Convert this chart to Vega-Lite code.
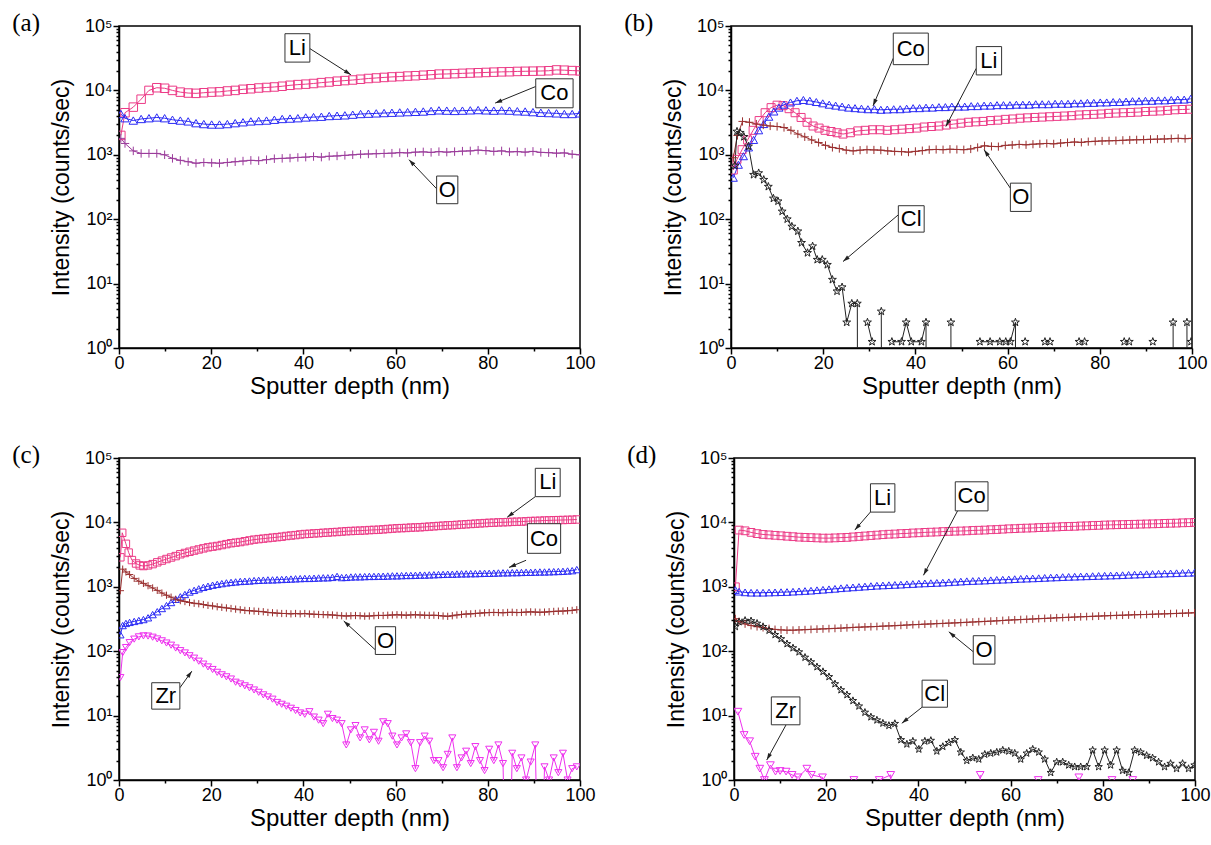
{
"$schema": "https://vega.github.io/schema/vega-lite/v6.json",
"background": "white",
"padding": {"left": 11, "top": 10, "right": 5, "bottom": 5},
"config": {
 "view": {"stroke": "black", "strokeWidth": 1.5},
 "axis": {"domainColor": "black", "domainWidth": 1.5, "tickColor": "black", "tickWidth": 1.5, "labelColor": "black", "labelFont": "Liberation Sans", "labelFontSize": 18, "titleFont": "Liberation Sans", "titleFontSize": 23, "titleFontWeight": "normal", "titleColor": "black", "grid": false, "labelOverlap": false, "labelFlush": false},
 "axisY": {"titlePadding": 11, "labelPadding": 1},
 "axisX": {"titlePadding": 2, "labelPadding": 0, "titleFontSize": 24},
 "title": {"anchor": "start", "frame": "bounds", "font": "Liberation Serif", "fontSize": 25, "fontWeight": "normal", "color": "black", "dx": -38, "dy": 23, "offset": 0}
},
"resolve": {"scale": {"color": "independent", "shape": "independent", "size": "independent"}},
"datasets": {
"a": [
{"s":"Li","x":0.4,"y":2000},{"s":"Li","x":1.3,"y":4500},{"s":"Li","x":3.1,"y":5500},{"s":"Li","x":4.8,"y":7300},{"s":"Li","x":6.5,"y":10000},{"s":"Li","x":8.2,"y":11000},{"s":"Li","x":9.9,"y":10800},{"s":"Li","x":11.6,"y":10000},{"s":"Li","x":13.3,"y":9400},{"s":"Li","x":15.0,"y":9100},{"s":"Li","x":16.7,"y":9000},{"s":"Li","x":18.4,"y":9200},{"s":"Li","x":20.1,"y":9400},{"s":"Li","x":21.8,"y":9500},{"s":"Li","x":23.5,"y":9800},{"s":"Li","x":25.2,"y":10000},{"s":"Li","x":26.9,"y":10400},{"s":"Li","x":28.6,"y":10600},{"s":"Li","x":30.3,"y":10900},{"s":"Li","x":32.0,"y":11100},{"s":"Li","x":33.7,"y":11300},{"s":"Li","x":35.4,"y":11600},{"s":"Li","x":37.1,"y":12000},{"s":"Li","x":38.8,"y":12300},{"s":"Li","x":40.5,"y":12500},{"s":"Li","x":42.2,"y":12800},{"s":"Li","x":43.9,"y":13200},{"s":"Li","x":45.6,"y":13500},{"s":"Li","x":47.3,"y":13900},{"s":"Li","x":49.0,"y":14200},{"s":"Li","x":50.7,"y":14500},{"s":"Li","x":52.4,"y":14900},{"s":"Li","x":54.1,"y":15300},{"s":"Li","x":55.8,"y":15600},{"s":"Li","x":57.5,"y":15900},{"s":"Li","x":59.2,"y":16200},{"s":"Li","x":60.9,"y":16400},{"s":"Li","x":62.6,"y":16700},{"s":"Li","x":64.3,"y":16900},{"s":"Li","x":66.0,"y":17200},{"s":"Li","x":67.7,"y":17500},{"s":"Li","x":69.4,"y":17900},{"s":"Li","x":71.1,"y":18000},{"s":"Li","x":72.8,"y":18200},{"s":"Li","x":74.5,"y":18400},{"s":"Li","x":76.2,"y":18600},{"s":"Li","x":77.9,"y":18800},{"s":"Li","x":79.6,"y":19000},{"s":"Li","x":81.3,"y":19200},{"s":"Li","x":83.0,"y":19400},{"s":"Li","x":84.7,"y":19500},{"s":"Li","x":86.4,"y":19700},{"s":"Li","x":88.1,"y":19800},{"s":"Li","x":89.8,"y":19900},{"s":"Li","x":91.5,"y":20000},{"s":"Li","x":93.2,"y":20200},{"s":"Li","x":94.9,"y":20800},{"s":"Li","x":96.6,"y":20600},{"s":"Li","x":98.3,"y":20300},{"s":"Li","x":100.0,"y":20100},
{"s":"Co","x":0.4,"y":4300},{"s":"Co","x":1.3,"y":3700},{"s":"Co","x":3.1,"y":3400},{"s":"Co","x":4.8,"y":3600},{"s":"Co","x":6.5,"y":3700},{"s":"Co","x":8.2,"y":3800},{"s":"Co","x":9.9,"y":3700},{"s":"Co","x":11.6,"y":3500},{"s":"Co","x":13.3,"y":3400},{"s":"Co","x":15.0,"y":3300},{"s":"Co","x":16.7,"y":3100},{"s":"Co","x":18.4,"y":3000},{"s":"Co","x":20.1,"y":2950},{"s":"Co","x":21.8,"y":2950},{"s":"Co","x":23.5,"y":3000},{"s":"Co","x":25.2,"y":3100},{"s":"Co","x":26.9,"y":3200},{"s":"Co","x":28.6,"y":3300},{"s":"Co","x":30.3,"y":3350},{"s":"Co","x":32.0,"y":3400},{"s":"Co","x":33.7,"y":3500},{"s":"Co","x":35.4,"y":3600},{"s":"Co","x":37.1,"y":3650},{"s":"Co","x":38.8,"y":3700},{"s":"Co","x":40.5,"y":3800},{"s":"Co","x":42.2,"y":3850},{"s":"Co","x":43.9,"y":3900},{"s":"Co","x":45.6,"y":4000},{"s":"Co","x":47.3,"y":4050},{"s":"Co","x":49.0,"y":4100},{"s":"Co","x":50.7,"y":4200},{"s":"Co","x":52.4,"y":4300},{"s":"Co","x":54.1,"y":4350},{"s":"Co","x":55.8,"y":4400},{"s":"Co","x":57.5,"y":4450},{"s":"Co","x":59.2,"y":4500},{"s":"Co","x":60.9,"y":4550},{"s":"Co","x":62.6,"y":4600},{"s":"Co","x":64.3,"y":4650},{"s":"Co","x":66.0,"y":4700},{"s":"Co","x":67.7,"y":4800},{"s":"Co","x":69.4,"y":4900},{"s":"Co","x":71.1,"y":4850},{"s":"Co","x":72.8,"y":4800},{"s":"Co","x":74.5,"y":4850},{"s":"Co","x":76.2,"y":4900},{"s":"Co","x":77.9,"y":4950},{"s":"Co","x":79.6,"y":4900},{"s":"Co","x":81.3,"y":4850},{"s":"Co","x":83.0,"y":4900},{"s":"Co","x":84.7,"y":4850},{"s":"Co","x":86.4,"y":4750},{"s":"Co","x":88.1,"y":4700},{"s":"Co","x":89.8,"y":4600},{"s":"Co","x":91.5,"y":4500},{"s":"Co","x":93.2,"y":4450},{"s":"Co","x":94.9,"y":4400},{"s":"Co","x":96.6,"y":4300},{"s":"Co","x":98.3,"y":4300},{"s":"Co","x":100.0,"y":4400},
{"s":"O","x":0.4,"y":1800},{"s":"O","x":1.3,"y":1500},{"s":"O","x":3.1,"y":1150},{"s":"O","x":4.8,"y":1050},{"s":"O","x":6.5,"y":1050},{"s":"O","x":8.2,"y":1050},{"s":"O","x":9.9,"y":1000},{"s":"O","x":11.6,"y":880},{"s":"O","x":13.3,"y":820},{"s":"O","x":15.0,"y":780},{"s":"O","x":16.7,"y":740},{"s":"O","x":18.4,"y":760},{"s":"O","x":20.1,"y":750},{"s":"O","x":21.8,"y":740},{"s":"O","x":23.5,"y":760},{"s":"O","x":25.2,"y":780},{"s":"O","x":26.9,"y":800},{"s":"O","x":28.6,"y":820},{"s":"O","x":30.3,"y":810},{"s":"O","x":32.0,"y":840},{"s":"O","x":33.7,"y":870},{"s":"O","x":35.4,"y":880},{"s":"O","x":37.1,"y":890},{"s":"O","x":38.8,"y":910},{"s":"O","x":40.5,"y":920},{"s":"O","x":42.2,"y":940},{"s":"O","x":43.9,"y":920},{"s":"O","x":45.6,"y":950},{"s":"O","x":47.3,"y":960},{"s":"O","x":49.0,"y":980},{"s":"O","x":50.7,"y":1000},{"s":"O","x":52.4,"y":1020},{"s":"O","x":54.1,"y":1030},{"s":"O","x":55.8,"y":1040},{"s":"O","x":57.5,"y":1050},{"s":"O","x":59.2,"y":1060},{"s":"O","x":60.9,"y":1080},{"s":"O","x":62.6,"y":1070},{"s":"O","x":64.3,"y":1100},{"s":"O","x":66.0,"y":1110},{"s":"O","x":67.7,"y":1090},{"s":"O","x":69.4,"y":1120},{"s":"O","x":71.1,"y":1100},{"s":"O","x":72.8,"y":1120},{"s":"O","x":74.5,"y":1140},{"s":"O","x":76.2,"y":1150},{"s":"O","x":77.9,"y":1180},{"s":"O","x":79.6,"y":1160},{"s":"O","x":81.3,"y":1130},{"s":"O","x":83.0,"y":1150},{"s":"O","x":84.7,"y":1110},{"s":"O","x":86.4,"y":1120},{"s":"O","x":88.1,"y":1100},{"s":"O","x":89.8,"y":1130},{"s":"O","x":91.5,"y":1090},{"s":"O","x":93.2,"y":1080},{"s":"O","x":94.9,"y":1060},{"s":"O","x":96.6,"y":1070},{"s":"O","x":98.3,"y":1020},{"s":"O","x":100.0,"y":1000}
],
"b": [
{"s":"Li","x":0.5,"y":580},{"s":"Li","x":1.3,"y":850},{"s":"Li","x":2.4,"y":1200},{"s":"Li","x":3.6,"y":1700},{"s":"Li","x":4.8,"y":2400},{"s":"Li","x":6.1,"y":3400},{"s":"Li","x":7.4,"y":4500},{"s":"Li","x":8.7,"y":5400},{"s":"Li","x":10.0,"y":5900},{"s":"Li","x":11.3,"y":5800},{"s":"Li","x":12.6,"y":5200},{"s":"Li","x":13.9,"y":4500},{"s":"Li","x":15.2,"y":3800},{"s":"Li","x":16.5,"y":3200},{"s":"Li","x":17.8,"y":2800},{"s":"Li","x":19.1,"y":2600},{"s":"Li","x":20.4,"y":2400},{"s":"Li","x":21.7,"y":2300},{"s":"Li","x":23.0,"y":2200},{"s":"Li","x":24.3,"y":2100},{"s":"Li","x":25.9,"y":2200},{"s":"Li","x":27.5,"y":2350},{"s":"Li","x":29.1,"y":2400},{"s":"Li","x":30.7,"y":2450},{"s":"Li","x":32.3,"y":2450},{"s":"Li","x":33.9,"y":2400},{"s":"Li","x":35.5,"y":2450},{"s":"Li","x":37.1,"y":2500},{"s":"Li","x":38.7,"y":2550},{"s":"Li","x":40.3,"y":2600},{"s":"Li","x":41.9,"y":2700},{"s":"Li","x":43.5,"y":2750},{"s":"Li","x":45.1,"y":2800},{"s":"Li","x":46.7,"y":2900},{"s":"Li","x":48.3,"y":3000},{"s":"Li","x":49.9,"y":3100},{"s":"Li","x":51.5,"y":3200},{"s":"Li","x":53.1,"y":3250},{"s":"Li","x":54.7,"y":3300},{"s":"Li","x":56.3,"y":3400},{"s":"Li","x":57.9,"y":3450},{"s":"Li","x":59.5,"y":3550},{"s":"Li","x":61.1,"y":3600},{"s":"Li","x":62.7,"y":3700},{"s":"Li","x":64.3,"y":3750},{"s":"Li","x":65.9,"y":3800},{"s":"Li","x":67.5,"y":3850},{"s":"Li","x":69.1,"y":3900},{"s":"Li","x":70.7,"y":3950},{"s":"Li","x":72.3,"y":4000},{"s":"Li","x":73.9,"y":4050},{"s":"Li","x":75.5,"y":4150},{"s":"Li","x":77.1,"y":4200},{"s":"Li","x":78.7,"y":4250},{"s":"Li","x":80.3,"y":4300},{"s":"Li","x":81.9,"y":4400},{"s":"Li","x":83.5,"y":4450},{"s":"Li","x":85.1,"y":4500},{"s":"Li","x":86.7,"y":4550},{"s":"Li","x":88.3,"y":4600},{"s":"Li","x":89.9,"y":4700},{"s":"Li","x":91.5,"y":4750},{"s":"Li","x":93.1,"y":4800},{"s":"Li","x":94.7,"y":4900},{"s":"Li","x":96.3,"y":5000},{"s":"Li","x":97.9,"y":5050},{"s":"Li","x":99.5,"y":5100},
{"s":"Co","x":0.5,"y":440},{"s":"Co","x":1.6,"y":700},{"s":"Co","x":2.7,"y":950},{"s":"Co","x":3.8,"y":1300},{"s":"Co","x":4.9,"y":1700},{"s":"Co","x":6.0,"y":2400},{"s":"Co","x":7.1,"y":3000},{"s":"Co","x":8.2,"y":3900},{"s":"Co","x":9.3,"y":4700},{"s":"Co","x":10.4,"y":5400},{"s":"Co","x":11.5,"y":6000},{"s":"Co","x":12.9,"y":6500},{"s":"Co","x":14.3,"y":6900},{"s":"Co","x":15.7,"y":7100},{"s":"Co","x":17.1,"y":6900},{"s":"Co","x":18.5,"y":6600},{"s":"Co","x":19.9,"y":6300},{"s":"Co","x":21.3,"y":6000},{"s":"Co","x":22.7,"y":5800},{"s":"Co","x":24.1,"y":5600},{"s":"Co","x":25.5,"y":5400},{"s":"Co","x":26.9,"y":5300},{"s":"Co","x":28.3,"y":5200},{"s":"Co","x":29.7,"y":5100},{"s":"Co","x":31.1,"y":5100},{"s":"Co","x":32.5,"y":5000},{"s":"Co","x":33.9,"y":5050},{"s":"Co","x":35.3,"y":5100},{"s":"Co","x":36.7,"y":5100},{"s":"Co","x":38.1,"y":5200},{"s":"Co","x":39.5,"y":5300},{"s":"Co","x":40.9,"y":5300},{"s":"Co","x":42.3,"y":5400},{"s":"Co","x":43.7,"y":5400},{"s":"Co","x":45.1,"y":5500},{"s":"Co","x":46.5,"y":5500},{"s":"Co","x":47.9,"y":5600},{"s":"Co","x":49.3,"y":5600},{"s":"Co","x":50.7,"y":5600},{"s":"Co","x":52.1,"y":5700},{"s":"Co","x":53.5,"y":5700},{"s":"Co","x":54.9,"y":5800},{"s":"Co","x":56.3,"y":5800},{"s":"Co","x":57.7,"y":5900},{"s":"Co","x":59.1,"y":5900},{"s":"Co","x":60.5,"y":5900},{"s":"Co","x":61.9,"y":6000},{"s":"Co","x":63.3,"y":6000},{"s":"Co","x":64.7,"y":6000},{"s":"Co","x":66.1,"y":6100},{"s":"Co","x":67.5,"y":6100},{"s":"Co","x":68.9,"y":6100},{"s":"Co","x":70.3,"y":6200},{"s":"Co","x":71.7,"y":6200},{"s":"Co","x":73.1,"y":6200},{"s":"Co","x":74.5,"y":6300},{"s":"Co","x":75.9,"y":6300},{"s":"Co","x":77.3,"y":6400},{"s":"Co","x":78.7,"y":6400},{"s":"Co","x":80.1,"y":6500},{"s":"Co","x":81.5,"y":6500},{"s":"Co","x":82.9,"y":6600},{"s":"Co","x":84.3,"y":6600},{"s":"Co","x":85.7,"y":6700},{"s":"Co","x":87.1,"y":6800},{"s":"Co","x":88.5,"y":6800},{"s":"Co","x":89.9,"y":6900},{"s":"Co","x":91.3,"y":6900},{"s":"Co","x":92.7,"y":7000},{"s":"Co","x":94.1,"y":7000},{"s":"Co","x":95.5,"y":7100},{"s":"Co","x":96.9,"y":7200},{"s":"Co","x":98.3,"y":7200},{"s":"Co","x":99.7,"y":7400},
{"s":"O","x":0.5,"y":900},{"s":"O","x":1.4,"y":2000},{"s":"O","x":2.5,"y":3300},{"s":"O","x":4.0,"y":3200},{"s":"O","x":5.5,"y":3000},{"s":"O","x":7.0,"y":2900},{"s":"O","x":8.5,"y":2800},{"s":"O","x":10.0,"y":2750},{"s":"O","x":11.5,"y":2650},{"s":"O","x":13.0,"y":2400},{"s":"O","x":14.5,"y":2100},{"s":"O","x":16.0,"y":1900},{"s":"O","x":17.5,"y":1700},{"s":"O","x":19.0,"y":1550},{"s":"O","x":20.5,"y":1400},{"s":"O","x":22.0,"y":1300},{"s":"O","x":23.5,"y":1250},{"s":"O","x":25.0,"y":1180},{"s":"O","x":26.5,"y":1150},{"s":"O","x":28.0,"y":1180},{"s":"O","x":29.5,"y":1200},{"s":"O","x":31.0,"y":1190},{"s":"O","x":32.5,"y":1180},{"s":"O","x":34.0,"y":1150},{"s":"O","x":35.5,"y":1130},{"s":"O","x":37.0,"y":1120},{"s":"O","x":38.5,"y":1100},{"s":"O","x":40.0,"y":1130},{"s":"O","x":41.5,"y":1160},{"s":"O","x":43.0,"y":1200},{"s":"O","x":44.5,"y":1210},{"s":"O","x":46.0,"y":1200},{"s":"O","x":47.5,"y":1220},{"s":"O","x":49.0,"y":1210},{"s":"O","x":50.5,"y":1200},{"s":"O","x":52.0,"y":1230},{"s":"O","x":53.5,"y":1300},{"s":"O","x":55.0,"y":1380},{"s":"O","x":56.5,"y":1350},{"s":"O","x":58.0,"y":1340},{"s":"O","x":59.5,"y":1400},{"s":"O","x":61.0,"y":1420},{"s":"O","x":62.5,"y":1450},{"s":"O","x":64.0,"y":1430},{"s":"O","x":65.5,"y":1460},{"s":"O","x":67.0,"y":1480},{"s":"O","x":68.5,"y":1500},{"s":"O","x":70.0,"y":1480},{"s":"O","x":71.5,"y":1520},{"s":"O","x":73.0,"y":1550},{"s":"O","x":74.5,"y":1580},{"s":"O","x":76.0,"y":1560},{"s":"O","x":77.5,"y":1600},{"s":"O","x":79.0,"y":1620},{"s":"O","x":80.5,"y":1640},{"s":"O","x":82.0,"y":1650},{"s":"O","x":83.5,"y":1660},{"s":"O","x":85.0,"y":1680},{"s":"O","x":86.5,"y":1700},{"s":"O","x":88.0,"y":1710},{"s":"O","x":89.5,"y":1720},{"s":"O","x":91.0,"y":1740},{"s":"O","x":92.5,"y":1750},{"s":"O","x":94.0,"y":1760},{"s":"O","x":95.5,"y":1780},{"s":"O","x":97.0,"y":1800},{"s":"O","x":98.5,"y":1780},{"s":"O","x":100.0,"y":1800},
{"s":"Cl","x":0.85,"y":680},{"s":"Cl","x":1.3,"y":2300},{"s":"Cl","x":2.0,"y":2200},{"s":"Cl","x":2.8,"y":1900},{"s":"Cl","x":3.8,"y":1350},{"s":"Cl","x":4.9,"y":490},{"s":"Cl","x":6.0,"y":520},{"s":"Cl","x":7.1,"y":410},{"s":"Cl","x":8.1,"y":320},{"s":"Cl","x":9.2,"y":210},{"s":"Cl","x":10.2,"y":190},{"s":"Cl","x":11.1,"y":132},{"s":"Cl","x":12.2,"y":100},{"s":"Cl","x":13.2,"y":77},{"s":"Cl","x":14.5,"y":65},{"s":"Cl","x":15.3,"y":43},{"s":"Cl","x":16.6,"y":30},{"s":"Cl","x":17.7,"y":38},{"s":"Cl","x":18.7,"y":23.5},{"s":"Cl","x":19.8,"y":23.5},{"s":"Cl","x":20.9,"y":19.6},{"s":"Cl","x":22.0,"y":11.5},{"s":"Cl","x":23.0,"y":7.6},{"s":"Cl","x":24.1,"y":8.8},{"s":"Cl","x":25.1,"y":2.5},{"s":"Cl","x":26.2,"y":4.9},{"s":"Cl","x":27.4,"y":4.9},{"s":"Cl","x":27.5,"y":0.001},{"s":"Cl","x":28.5,"y":null},{"s":"Cl","x":29.6,"y":2.5},{"s":"Cl","x":30.6,"y":1.25},{"s":"Cl","x":31.6,"y":null},{"s":"Cl","x":32.6,"y":3.7},{"s":"Cl","x":32.7,"y":0.001},{"s":"Cl","x":33.8,"y":null},{"s":"Cl","x":34.9,"y":1.25},{"s":"Cl","x":37.0,"y":1.25},{"s":"Cl","x":38.0,"y":2.5},{"s":"Cl","x":39.1,"y":1.25},{"s":"Cl","x":41.3,"y":1.25},{"s":"Cl","x":42.3,"y":2.5},{"s":"Cl","x":42.4,"y":0.001},{"s":"Cl","x":45.0,"y":null},{"s":"Cl","x":47.7,"y":2.5},{"s":"Cl","x":47.8,"y":0.001},{"s":"Cl","x":51.0,"y":null},{"s":"Cl","x":54.0,"y":1.25},{"s":"Cl","x":56.2,"y":1.25},{"s":"Cl","x":58.3,"y":1.25},{"s":"Cl","x":59.6,"y":1.25},{"s":"Cl","x":60.6,"y":1.25},{"s":"Cl","x":61.7,"y":2.5},{"s":"Cl","x":61.8,"y":0.001},{"s":"Cl","x":62.8,"y":null},{"s":"Cl","x":63.8,"y":1.25},{"s":"Cl","x":66.0,"y":null},{"s":"Cl","x":68.1,"y":1.25},{"s":"Cl","x":69.2,"y":1.25},{"s":"Cl","x":72.0,"y":null},{"s":"Cl","x":75.5,"y":1.25},{"s":"Cl","x":76.7,"y":1.25},{"s":"Cl","x":80.0,"y":null},{"s":"Cl","x":85.3,"y":1.25},{"s":"Cl","x":86.4,"y":1.25},{"s":"Cl","x":89.0,"y":null},{"s":"Cl","x":91.5,"y":1.25},{"s":"Cl","x":93.0,"y":null},{"s":"Cl","x":95.9,"y":2.5},{"s":"Cl","x":96.0,"y":0.001},{"s":"Cl","x":97.5,"y":null},{"s":"Cl","x":98.9,"y":2.5},{"s":"Cl","x":99.0,"y":0.001},{"s":"Cl","x":99.4,"y":null},{"s":"Cl","x":99.8,"y":1.25}
],
"c": [
{"s":"Li","x":0.3,"y":2870},{"s":"Li","x":0.7,"y":6900},{"s":"Li","x":1.5,"y":4650},{"s":"Li","x":2.1,"y":3400},{"s":"Li","x":2.8,"y":2600},{"s":"Li","x":3.7,"y":2300},{"s":"Li","x":4.5,"y":2150},{"s":"Li","x":5.3,"y":2100},{"s":"Li","x":6.3,"y":2150},{"s":"Li","x":7.3,"y":2250},{"s":"Li","x":8.3,"y":2400},{"s":"Li","x":9.3,"y":2550},{"s":"Li","x":10.3,"y":2700},{"s":"Li","x":11.3,"y":2850},{"s":"Li","x":12.3,"y":3000},{"s":"Li","x":13.3,"y":3200},{"s":"Li","x":14.3,"y":3350},{"s":"Li","x":15.3,"y":3500},{"s":"Li","x":16.3,"y":3650},{"s":"Li","x":17.3,"y":3800},{"s":"Li","x":18.3,"y":3950},{"s":"Li","x":19.3,"y":4100},{"s":"Li","x":20.3,"y":4200},{"s":"Li","x":21.3,"y":4300},{"s":"Li","x":22.3,"y":4450},{"s":"Li","x":23.3,"y":4600},{"s":"Li","x":24.3,"y":4750},{"s":"Li","x":25.3,"y":4850},{"s":"Li","x":26.3,"y":4950},{"s":"Li","x":27.3,"y":5100},{"s":"Li","x":28.3,"y":5250},{"s":"Li","x":29.3,"y":5400},{"s":"Li","x":30.3,"y":5500},{"s":"Li","x":31.3,"y":5600},{"s":"Li","x":32.3,"y":5700},{"s":"Li","x":33.3,"y":5800},{"s":"Li","x":34.3,"y":5900},{"s":"Li","x":35.3,"y":6000},{"s":"Li","x":36.3,"y":6150},{"s":"Li","x":37.3,"y":6250},{"s":"Li","x":38.3,"y":6350},{"s":"Li","x":39.3,"y":6500},{"s":"Li","x":40.3,"y":6600},{"s":"Li","x":41.3,"y":6650},{"s":"Li","x":42.3,"y":6750},{"s":"Li","x":43.3,"y":6800},{"s":"Li","x":44.3,"y":6900},{"s":"Li","x":45.3,"y":6950},{"s":"Li","x":46.3,"y":7050},{"s":"Li","x":47.3,"y":7100},{"s":"Li","x":48.3,"y":7200},{"s":"Li","x":49.3,"y":7300},{"s":"Li","x":50.3,"y":7350},{"s":"Li","x":51.3,"y":7400},{"s":"Li","x":52.3,"y":7450},{"s":"Li","x":53.3,"y":7500},{"s":"Li","x":54.3,"y":7600},{"s":"Li","x":55.3,"y":7650},{"s":"Li","x":56.3,"y":7700},{"s":"Li","x":57.3,"y":7800},{"s":"Li","x":58.3,"y":7900},{"s":"Li","x":59.3,"y":8000},{"s":"Li","x":60.3,"y":8100},{"s":"Li","x":61.3,"y":8150},{"s":"Li","x":62.3,"y":8200},{"s":"Li","x":63.3,"y":8300},{"s":"Li","x":64.3,"y":8350},{"s":"Li","x":65.3,"y":8400},{"s":"Li","x":66.3,"y":8500},{"s":"Li","x":67.3,"y":8600},{"s":"Li","x":68.3,"y":8700},{"s":"Li","x":69.3,"y":8800},{"s":"Li","x":70.3,"y":8900},{"s":"Li","x":71.3,"y":9000},{"s":"Li","x":72.3,"y":9050},{"s":"Li","x":73.3,"y":9150},{"s":"Li","x":74.3,"y":9250},{"s":"Li","x":75.3,"y":9350},{"s":"Li","x":76.3,"y":9450},{"s":"Li","x":77.3,"y":9550},{"s":"Li","x":78.3,"y":9650},{"s":"Li","x":79.3,"y":9750},{"s":"Li","x":80.3,"y":9850},{"s":"Li","x":81.3,"y":9900},{"s":"Li","x":82.3,"y":10000},{"s":"Li","x":83.3,"y":10050},{"s":"Li","x":84.3,"y":10100},{"s":"Li","x":85.3,"y":10200},{"s":"Li","x":86.3,"y":10250},{"s":"Li","x":87.3,"y":10300},{"s":"Li","x":88.3,"y":10400},{"s":"Li","x":89.3,"y":10500},{"s":"Li","x":90.3,"y":10550},{"s":"Li","x":91.3,"y":10600},{"s":"Li","x":92.3,"y":10700},{"s":"Li","x":93.3,"y":10750},{"s":"Li","x":94.3,"y":10800},{"s":"Li","x":95.3,"y":10850},{"s":"Li","x":96.3,"y":10900},{"s":"Li","x":97.3,"y":10950},{"s":"Li","x":98.3,"y":11000},{"s":"Li","x":99.3,"y":11100},
{"s":"Co","x":0.3,"y":180},{"s":"Co","x":0.8,"y":250},{"s":"Co","x":1.5,"y":270},{"s":"Co","x":2.3,"y":280},{"s":"Co","x":3.3,"y":290},{"s":"Co","x":4.3,"y":300},{"s":"Co","x":5.3,"y":310},{"s":"Co","x":6.3,"y":330},{"s":"Co","x":7.3,"y":370},{"s":"Co","x":8.3,"y":410},{"s":"Co","x":9.3,"y":460},{"s":"Co","x":10.3,"y":510},{"s":"Co","x":11.3,"y":570},{"s":"Co","x":12.3,"y":640},{"s":"Co","x":13.3,"y":700},{"s":"Co","x":14.3,"y":760},{"s":"Co","x":15.3,"y":830},{"s":"Co","x":16.3,"y":880},{"s":"Co","x":17.3,"y":930},{"s":"Co","x":18.3,"y":980},{"s":"Co","x":19.3,"y":1020},{"s":"Co","x":20.3,"y":1060},{"s":"Co","x":21.3,"y":1090},{"s":"Co","x":22.3,"y":1120},{"s":"Co","x":23.3,"y":1150},{"s":"Co","x":24.3,"y":1170},{"s":"Co","x":25.3,"y":1190},{"s":"Co","x":26.3,"y":1210},{"s":"Co","x":27.3,"y":1220},{"s":"Co","x":28.3,"y":1230},{"s":"Co","x":29.3,"y":1250},{"s":"Co","x":30.3,"y":1260},{"s":"Co","x":31.3,"y":1270},{"s":"Co","x":32.3,"y":1280},{"s":"Co","x":33.3,"y":1280},{"s":"Co","x":34.3,"y":1290},{"s":"Co","x":35.3,"y":1300},{"s":"Co","x":36.3,"y":1310},{"s":"Co","x":37.3,"y":1320},{"s":"Co","x":38.3,"y":1330},{"s":"Co","x":39.3,"y":1340},{"s":"Co","x":40.3,"y":1350},{"s":"Co","x":41.3,"y":1350},{"s":"Co","x":42.3,"y":1360},{"s":"Co","x":43.3,"y":1370},{"s":"Co","x":44.3,"y":1380},{"s":"Co","x":45.3,"y":1380},{"s":"Co","x":46.3,"y":1400},{"s":"Co","x":47.3,"y":1450},{"s":"Co","x":48.3,"y":1390},{"s":"Co","x":49.3,"y":1400},{"s":"Co","x":50.3,"y":1420},{"s":"Co","x":51.3,"y":1430},{"s":"Co","x":52.3,"y":1430},{"s":"Co","x":53.3,"y":1440},{"s":"Co","x":54.3,"y":1450},{"s":"Co","x":55.3,"y":1450},{"s":"Co","x":56.3,"y":1460},{"s":"Co","x":57.3,"y":1460},{"s":"Co","x":58.3,"y":1470},{"s":"Co","x":59.3,"y":1480},{"s":"Co","x":60.3,"y":1480},{"s":"Co","x":61.3,"y":1490},{"s":"Co","x":62.3,"y":1500},{"s":"Co","x":63.3,"y":1500},{"s":"Co","x":64.3,"y":1510},{"s":"Co","x":65.3,"y":1520},{"s":"Co","x":66.3,"y":1520},{"s":"Co","x":67.3,"y":1530},{"s":"Co","x":68.3,"y":1540},{"s":"Co","x":69.3,"y":1550},{"s":"Co","x":70.3,"y":1560},{"s":"Co","x":71.3,"y":1570},{"s":"Co","x":72.3,"y":1570},{"s":"Co","x":73.3,"y":1580},{"s":"Co","x":74.3,"y":1590},{"s":"Co","x":75.3,"y":1590},{"s":"Co","x":76.3,"y":1600},{"s":"Co","x":77.3,"y":1600},{"s":"Co","x":78.3,"y":1610},{"s":"Co","x":79.3,"y":1620},{"s":"Co","x":80.3,"y":1620},{"s":"Co","x":81.3,"y":1630},{"s":"Co","x":82.3,"y":1640},{"s":"Co","x":83.3,"y":1650},{"s":"Co","x":84.3,"y":1650},{"s":"Co","x":85.3,"y":1660},{"s":"Co","x":86.3,"y":1660},{"s":"Co","x":87.3,"y":1670},{"s":"Co","x":88.3,"y":1680},{"s":"Co","x":89.3,"y":1680},{"s":"Co","x":90.3,"y":1690},{"s":"Co","x":91.3,"y":1700},{"s":"Co","x":92.3,"y":1700},{"s":"Co","x":93.3,"y":1710},{"s":"Co","x":94.3,"y":1720},{"s":"Co","x":95.3,"y":1730},{"s":"Co","x":96.3,"y":1740},{"s":"Co","x":97.3,"y":1760},{"s":"Co","x":98.3,"y":1780},{"s":"Co","x":99.3,"y":1850},
{"s":"O","x":0.3,"y":870},{"s":"O","x":0.8,"y":1880},{"s":"O","x":1.5,"y":1700},{"s":"O","x":2.3,"y":1550},{"s":"O","x":3.3,"y":1350},{"s":"O","x":4.3,"y":1220},{"s":"O","x":5.3,"y":1130},{"s":"O","x":6.3,"y":1040},{"s":"O","x":7.3,"y":960},{"s":"O","x":8.3,"y":880},{"s":"O","x":9.3,"y":800},{"s":"O","x":10.3,"y":740},{"s":"O","x":11.3,"y":690},{"s":"O","x":12.3,"y":640},{"s":"O","x":13.3,"y":610},{"s":"O","x":14.3,"y":590},{"s":"O","x":15.3,"y":570},{"s":"O","x":16.3,"y":555},{"s":"O","x":17.3,"y":545},{"s":"O","x":18.3,"y":530},{"s":"O","x":19.3,"y":515},{"s":"O","x":20.3,"y":505},{"s":"O","x":21.3,"y":490},{"s":"O","x":22.3,"y":480},{"s":"O","x":23.3,"y":470},{"s":"O","x":24.3,"y":460},{"s":"O","x":25.3,"y":450},{"s":"O","x":26.3,"y":440},{"s":"O","x":27.3,"y":430},{"s":"O","x":28.3,"y":425},{"s":"O","x":29.3,"y":420},{"s":"O","x":30.3,"y":415},{"s":"O","x":31.3,"y":410},{"s":"O","x":32.3,"y":400},{"s":"O","x":33.3,"y":395},{"s":"O","x":34.3,"y":390},{"s":"O","x":35.3,"y":385},{"s":"O","x":36.3,"y":385},{"s":"O","x":37.3,"y":380},{"s":"O","x":38.3,"y":385},{"s":"O","x":39.3,"y":380},{"s":"O","x":40.3,"y":385},{"s":"O","x":41.3,"y":378},{"s":"O","x":42.3,"y":375},{"s":"O","x":43.3,"y":372},{"s":"O","x":44.3,"y":370},{"s":"O","x":45.3,"y":368},{"s":"O","x":46.3,"y":365},{"s":"O","x":47.3,"y":360},{"s":"O","x":48.3,"y":355},{"s":"O","x":49.3,"y":352},{"s":"O","x":50.3,"y":355},{"s":"O","x":51.3,"y":358},{"s":"O","x":52.3,"y":355},{"s":"O","x":53.3,"y":350},{"s":"O","x":54.3,"y":352},{"s":"O","x":55.3,"y":356},{"s":"O","x":56.3,"y":360},{"s":"O","x":57.3,"y":358},{"s":"O","x":58.3,"y":362},{"s":"O","x":59.3,"y":365},{"s":"O","x":60.3,"y":368},{"s":"O","x":61.3,"y":365},{"s":"O","x":62.3,"y":362},{"s":"O","x":63.3,"y":366},{"s":"O","x":64.3,"y":368},{"s":"O","x":65.3,"y":365},{"s":"O","x":66.3,"y":362},{"s":"O","x":67.3,"y":360},{"s":"O","x":68.3,"y":362},{"s":"O","x":69.3,"y":358},{"s":"O","x":70.3,"y":352},{"s":"O","x":71.3,"y":348},{"s":"O","x":72.3,"y":355},{"s":"O","x":73.3,"y":365},{"s":"O","x":74.3,"y":372},{"s":"O","x":75.3,"y":378},{"s":"O","x":76.3,"y":380},{"s":"O","x":77.3,"y":385},{"s":"O","x":78.3,"y":390},{"s":"O","x":79.3,"y":395},{"s":"O","x":80.3,"y":398},{"s":"O","x":81.3,"y":400},{"s":"O","x":82.3,"y":398},{"s":"O","x":83.3,"y":395},{"s":"O","x":84.3,"y":400},{"s":"O","x":85.3,"y":402},{"s":"O","x":86.3,"y":398},{"s":"O","x":87.3,"y":400},{"s":"O","x":88.3,"y":405},{"s":"O","x":89.3,"y":408},{"s":"O","x":90.3,"y":405},{"s":"O","x":91.3,"y":402},{"s":"O","x":92.3,"y":405},{"s":"O","x":93.3,"y":410},{"s":"O","x":94.3,"y":415},{"s":"O","x":95.3,"y":418},{"s":"O","x":96.3,"y":420},{"s":"O","x":97.3,"y":425},{"s":"O","x":98.3,"y":430},{"s":"O","x":99.3,"y":440},
{"s":"Zr","x":0.3,"y":39},{"s":"Zr","x":0.8,"y":95},{"s":"Zr","x":1.5,"y":114},{"s":"Zr","x":2.3,"y":136},{"s":"Zr","x":3.3,"y":154},{"s":"Zr","x":4.3,"y":167},{"s":"Zr","x":5.3,"y":173},{"s":"Zr","x":6.3,"y":172},{"s":"Zr","x":7.3,"y":165},{"s":"Zr","x":8.3,"y":155},{"s":"Zr","x":9.3,"y":145},{"s":"Zr","x":10.3,"y":134},{"s":"Zr","x":11.3,"y":124},{"s":"Zr","x":12.3,"y":112},{"s":"Zr","x":13.3,"y":102},{"s":"Zr","x":14.3,"y":94},{"s":"Zr","x":15.3,"y":85},{"s":"Zr","x":16.3,"y":78},{"s":"Zr","x":17.3,"y":70},{"s":"Zr","x":18.3,"y":63},{"s":"Zr","x":19.3,"y":57},{"s":"Zr","x":20.3,"y":52},{"s":"Zr","x":21.3,"y":47},{"s":"Zr","x":22.3,"y":43},{"s":"Zr","x":23.3,"y":40},{"s":"Zr","x":24.3,"y":37},{"s":"Zr","x":25.3,"y":33},{"s":"Zr","x":26.3,"y":31},{"s":"Zr","x":27.3,"y":29},{"s":"Zr","x":28.3,"y":27},{"s":"Zr","x":29.3,"y":25},{"s":"Zr","x":30.3,"y":23},{"s":"Zr","x":31.3,"y":21},{"s":"Zr","x":32.3,"y":19.5},{"s":"Zr","x":33.3,"y":18},{"s":"Zr","x":34.3,"y":16},{"s":"Zr","x":35.3,"y":15},{"s":"Zr","x":36.3,"y":14},{"s":"Zr","x":37.3,"y":13},{"s":"Zr","x":38.3,"y":12},{"s":"Zr","x":39.3,"y":11},{"s":"Zr","x":40.3,"y":10.5},{"s":"Zr","x":41.3,"y":11.5},{"s":"Zr","x":42.3,"y":9.5},{"s":"Zr","x":43.3,"y":8.5},{"s":"Zr","x":44.3,"y":7.5},{"s":"Zr","x":45.3,"y":10.5},{"s":"Zr","x":46.3,"y":9},{"s":"Zr","x":47.3,"y":8.5},{"s":"Zr","x":48.3,"y":7.5},{"s":"Zr","x":49.3,"y":3.5},{"s":"Zr","x":50.3,"y":6.0},{"s":"Zr","x":51.3,"y":7.0},{"s":"Zr","x":52.3,"y":4.5},{"s":"Zr","x":53.3,"y":6.0},{"s":"Zr","x":54.3,"y":4.2},{"s":"Zr","x":55.3,"y":5.5},{"s":"Zr","x":56.3,"y":4.0},{"s":"Zr","x":57.3,"y":8.0},{"s":"Zr","x":58.3,"y":7.5},{"s":"Zr","x":59.3,"y":4.8},{"s":"Zr","x":60.3,"y":3.5},{"s":"Zr","x":61.3,"y":4.5},{"s":"Zr","x":62.3,"y":5.2},{"s":"Zr","x":63.3,"y":3.8},{"s":"Zr","x":64.3,"y":1.5},{"s":"Zr","x":65.3,"y":3.8},{"s":"Zr","x":66.3,"y":4.8},{"s":"Zr","x":67.3,"y":4.0},{"s":"Zr","x":68.3,"y":2.0},{"s":"Zr","x":69.3,"y":2.0},{"s":"Zr","x":70.3,"y":1.55},{"s":"Zr","x":71.3,"y":2.5},{"s":"Zr","x":72.3,"y":4.5},{"s":"Zr","x":73.3,"y":1.55},{"s":"Zr","x":74.3,"y":2.2},{"s":"Zr","x":75.3,"y":2.8},{"s":"Zr","x":76.3,"y":1.8},{"s":"Zr","x":77.3,"y":3.3},{"s":"Zr","x":78.3,"y":2.0},{"s":"Zr","x":79.3,"y":1.4},{"s":"Zr","x":80.3,"y":3.0},{"s":"Zr","x":81.3,"y":2.0},{"s":"Zr","x":82.3,"y":3.5},{"s":"Zr","x":83.3,"y":1.8},{"s":"Zr","x":84.3,"y":0.001},{"s":"Zr","x":85.3,"y":2.6},{"s":"Zr","x":86.3,"y":1.5},{"s":"Zr","x":87.3,"y":2.2},{"s":"Zr","x":88.3,"y":1.0},{"s":"Zr","x":89.3,"y":1.9},{"s":"Zr","x":90.3,"y":3.5},{"s":"Zr","x":91.3,"y":0.001},{"s":"Zr","x":92.3,"y":1.6},{"s":"Zr","x":93.3,"y":1.0},{"s":"Zr","x":94.3,"y":2.2},{"s":"Zr","x":95.3,"y":1.3},{"s":"Zr","x":96.3,"y":2.6},{"s":"Zr","x":97.3,"y":1.0},{"s":"Zr","x":98.3,"y":1.5},{"s":"Zr","x":99.3,"y":1.6}
],
"d": [
{"s":"Li","x":0.3,"y":1000},{"s":"Li","x":1.1,"y":7600},{"s":"Li","x":2.4,"y":7400},{"s":"Li","x":3.7,"y":7000},{"s":"Li","x":5.0,"y":6700},{"s":"Li","x":6.3,"y":6500},{"s":"Li","x":7.6,"y":6400},{"s":"Li","x":8.9,"y":6300},{"s":"Li","x":10.2,"y":6200},{"s":"Li","x":11.5,"y":6100},{"s":"Li","x":12.8,"y":6000},{"s":"Li","x":14.1,"y":5900},{"s":"Li","x":15.4,"y":5850},{"s":"Li","x":16.7,"y":5800},{"s":"Li","x":18.0,"y":5750},{"s":"Li","x":19.3,"y":5700},{"s":"Li","x":20.6,"y":5700},{"s":"Li","x":21.9,"y":5750},{"s":"Li","x":23.2,"y":5800},{"s":"Li","x":24.5,"y":5850},{"s":"Li","x":25.8,"y":5950},{"s":"Li","x":27.1,"y":6050},{"s":"Li","x":28.4,"y":6150},{"s":"Li","x":29.7,"y":6250},{"s":"Li","x":31.0,"y":6350},{"s":"Li","x":32.3,"y":6450},{"s":"Li","x":33.6,"y":6550},{"s":"Li","x":34.9,"y":6600},{"s":"Li","x":36.2,"y":6700},{"s":"Li","x":37.5,"y":6750},{"s":"Li","x":38.8,"y":6850},{"s":"Li","x":40.1,"y":6900},{"s":"Li","x":41.4,"y":7000},{"s":"Li","x":42.7,"y":7050},{"s":"Li","x":44.0,"y":7100},{"s":"Li","x":45.3,"y":7200},{"s":"Li","x":46.6,"y":7250},{"s":"Li","x":47.9,"y":7300},{"s":"Li","x":49.2,"y":7350},{"s":"Li","x":50.5,"y":7400},{"s":"Li","x":51.8,"y":7500},{"s":"Li","x":53.1,"y":7550},{"s":"Li","x":54.4,"y":7600},{"s":"Li","x":55.7,"y":7700},{"s":"Li","x":57.0,"y":7750},{"s":"Li","x":58.3,"y":7850},{"s":"Li","x":59.6,"y":7950},{"s":"Li","x":60.9,"y":8000},{"s":"Li","x":62.2,"y":8100},{"s":"Li","x":63.5,"y":8150},{"s":"Li","x":64.8,"y":8200},{"s":"Li","x":66.1,"y":8300},{"s":"Li","x":67.4,"y":8350},{"s":"Li","x":68.7,"y":8450},{"s":"Li","x":70.0,"y":8500},{"s":"Li","x":71.3,"y":8600},{"s":"Li","x":72.6,"y":8650},{"s":"Li","x":73.9,"y":8700},{"s":"Li","x":75.2,"y":8800},{"s":"Li","x":76.5,"y":8850},{"s":"Li","x":77.8,"y":8950},{"s":"Li","x":79.1,"y":9000},{"s":"Li","x":80.4,"y":9100},{"s":"Li","x":81.7,"y":9150},{"s":"Li","x":83.0,"y":9200},{"s":"Li","x":84.3,"y":9250},{"s":"Li","x":85.6,"y":9300},{"s":"Li","x":86.9,"y":9350},{"s":"Li","x":88.2,"y":9400},{"s":"Li","x":89.5,"y":9450},{"s":"Li","x":90.8,"y":9500},{"s":"Li","x":92.1,"y":9550},{"s":"Li","x":93.4,"y":9650},{"s":"Li","x":94.7,"y":9700},{"s":"Li","x":96.0,"y":9750},{"s":"Li","x":97.3,"y":9850},{"s":"Li","x":98.6,"y":9900},{"s":"Li","x":99.9,"y":10000},
{"s":"Co","x":0.3,"y":890},{"s":"Co","x":1.1,"y":840},{"s":"Co","x":2.4,"y":820},{"s":"Co","x":3.7,"y":810},{"s":"Co","x":5.0,"y":810},{"s":"Co","x":6.3,"y":810},{"s":"Co","x":7.6,"y":815},{"s":"Co","x":8.9,"y":820},{"s":"Co","x":10.2,"y":825},{"s":"Co","x":11.5,"y":830},{"s":"Co","x":12.8,"y":840},{"s":"Co","x":14.1,"y":850},{"s":"Co","x":15.4,"y":860},{"s":"Co","x":16.7,"y":870},{"s":"Co","x":18.0,"y":885},{"s":"Co","x":19.3,"y":900},{"s":"Co","x":20.6,"y":915},{"s":"Co","x":21.9,"y":930},{"s":"Co","x":23.2,"y":950},{"s":"Co","x":24.5,"y":965},{"s":"Co","x":25.8,"y":980},{"s":"Co","x":27.1,"y":995},{"s":"Co","x":28.4,"y":1010},{"s":"Co","x":29.7,"y":1025},{"s":"Co","x":31.0,"y":1040},{"s":"Co","x":32.3,"y":1050},{"s":"Co","x":33.6,"y":1060},{"s":"Co","x":34.9,"y":1070},{"s":"Co","x":36.2,"y":1080},{"s":"Co","x":37.5,"y":1095},{"s":"Co","x":38.8,"y":1105},{"s":"Co","x":40.1,"y":1120},{"s":"Co","x":41.4,"y":1130},{"s":"Co","x":42.7,"y":1140},{"s":"Co","x":44.0,"y":1150},{"s":"Co","x":45.3,"y":1160},{"s":"Co","x":46.6,"y":1175},{"s":"Co","x":47.9,"y":1190},{"s":"Co","x":49.2,"y":1205},{"s":"Co","x":50.5,"y":1220},{"s":"Co","x":51.8,"y":1230},{"s":"Co","x":53.1,"y":1240},{"s":"Co","x":54.4,"y":1250},{"s":"Co","x":55.7,"y":1265},{"s":"Co","x":57.0,"y":1280},{"s":"Co","x":58.3,"y":1290},{"s":"Co","x":59.6,"y":1300},{"s":"Co","x":60.9,"y":1315},{"s":"Co","x":62.2,"y":1330},{"s":"Co","x":63.5,"y":1340},{"s":"Co","x":64.8,"y":1350},{"s":"Co","x":66.1,"y":1360},{"s":"Co","x":67.4,"y":1375},{"s":"Co","x":68.7,"y":1390},{"s":"Co","x":70.0,"y":1400},{"s":"Co","x":71.3,"y":1415},{"s":"Co","x":72.6,"y":1425},{"s":"Co","x":73.9,"y":1435},{"s":"Co","x":75.2,"y":1445},{"s":"Co","x":76.5,"y":1455},{"s":"Co","x":77.8,"y":1465},{"s":"Co","x":79.1,"y":1475},{"s":"Co","x":80.4,"y":1485},{"s":"Co","x":81.7,"y":1495},{"s":"Co","x":83.0,"y":1505},{"s":"Co","x":84.3,"y":1515},{"s":"Co","x":85.6,"y":1530},{"s":"Co","x":86.9,"y":1545},{"s":"Co","x":88.2,"y":1555},{"s":"Co","x":89.5,"y":1570},{"s":"Co","x":90.8,"y":1580},{"s":"Co","x":92.1,"y":1595},{"s":"Co","x":93.4,"y":1605},{"s":"Co","x":94.7,"y":1615},{"s":"Co","x":96.0,"y":1625},{"s":"Co","x":97.3,"y":1640},{"s":"Co","x":98.6,"y":1650},{"s":"Co","x":99.9,"y":1660},
{"s":"O","x":0.3,"y":320},{"s":"O","x":1.1,"y":290},{"s":"O","x":2.4,"y":265},{"s":"O","x":3.7,"y":250},{"s":"O","x":5.0,"y":240},{"s":"O","x":6.3,"y":232},{"s":"O","x":7.6,"y":225},{"s":"O","x":8.9,"y":218},{"s":"O","x":10.2,"y":214},{"s":"O","x":11.5,"y":212},{"s":"O","x":12.8,"y":212},{"s":"O","x":14.1,"y":214},{"s":"O","x":15.4,"y":216},{"s":"O","x":16.7,"y":218},{"s":"O","x":18.0,"y":220},{"s":"O","x":19.3,"y":222},{"s":"O","x":20.6,"y":224},{"s":"O","x":21.9,"y":226},{"s":"O","x":23.2,"y":228},{"s":"O","x":24.5,"y":231},{"s":"O","x":25.8,"y":234},{"s":"O","x":27.1,"y":236},{"s":"O","x":28.4,"y":238},{"s":"O","x":29.7,"y":240},{"s":"O","x":31.0,"y":242},{"s":"O","x":32.3,"y":245},{"s":"O","x":33.6,"y":247},{"s":"O","x":34.9,"y":249},{"s":"O","x":36.2,"y":252},{"s":"O","x":37.5,"y":255},{"s":"O","x":38.8,"y":258},{"s":"O","x":40.1,"y":260},{"s":"O","x":41.4,"y":263},{"s":"O","x":42.7,"y":265},{"s":"O","x":44.0,"y":268},{"s":"O","x":45.3,"y":270},{"s":"O","x":46.6,"y":273},{"s":"O","x":47.9,"y":275},{"s":"O","x":49.2,"y":278},{"s":"O","x":50.5,"y":281},{"s":"O","x":51.8,"y":284},{"s":"O","x":53.1,"y":287},{"s":"O","x":54.4,"y":290},{"s":"O","x":55.7,"y":293},{"s":"O","x":57.0,"y":296},{"s":"O","x":58.3,"y":300},{"s":"O","x":59.6,"y":304},{"s":"O","x":60.9,"y":307},{"s":"O","x":62.2,"y":310},{"s":"O","x":63.5,"y":313},{"s":"O","x":64.8,"y":316},{"s":"O","x":66.1,"y":320},{"s":"O","x":67.4,"y":323},{"s":"O","x":68.7,"y":326},{"s":"O","x":70.0,"y":330},{"s":"O","x":71.3,"y":333},{"s":"O","x":72.6,"y":336},{"s":"O","x":73.9,"y":339},{"s":"O","x":75.2,"y":342},{"s":"O","x":76.5,"y":345},{"s":"O","x":77.8,"y":348},{"s":"O","x":79.1,"y":351},{"s":"O","x":80.4,"y":354},{"s":"O","x":81.7,"y":357},{"s":"O","x":83.0,"y":360},{"s":"O","x":84.3,"y":362},{"s":"O","x":85.6,"y":365},{"s":"O","x":86.9,"y":368},{"s":"O","x":88.2,"y":370},{"s":"O","x":89.5,"y":372},{"s":"O","x":90.8,"y":375},{"s":"O","x":92.1,"y":378},{"s":"O","x":93.4,"y":380},{"s":"O","x":94.7,"y":383},{"s":"O","x":96.0,"y":386},{"s":"O","x":97.3,"y":389},{"s":"O","x":98.6,"y":392},{"s":"O","x":99.9,"y":395},
{"s":"Cl","x":0.3,"y":240},{"s":"Cl","x":1.1,"y":285},{"s":"Cl","x":2.4,"y":300},{"s":"Cl","x":3.7,"y":295},{"s":"Cl","x":5.0,"y":270},{"s":"Cl","x":6.3,"y":240},{"s":"Cl","x":7.6,"y":210},{"s":"Cl","x":8.9,"y":180},{"s":"Cl","x":10.2,"y":155},{"s":"Cl","x":11.5,"y":130},{"s":"Cl","x":12.8,"y":112},{"s":"Cl","x":14.1,"y":97},{"s":"Cl","x":15.4,"y":80},{"s":"Cl","x":16.7,"y":68},{"s":"Cl","x":18.0,"y":57},{"s":"Cl","x":19.3,"y":48},{"s":"Cl","x":20.6,"y":40},{"s":"Cl","x":21.9,"y":31},{"s":"Cl","x":23.2,"y":25},{"s":"Cl","x":24.5,"y":21},{"s":"Cl","x":25.8,"y":17},{"s":"Cl","x":27.1,"y":14},{"s":"Cl","x":28.4,"y":11.2},{"s":"Cl","x":29.7,"y":9.5},{"s":"Cl","x":31.0,"y":8.5},{"s":"Cl","x":32.3,"y":7.6},{"s":"Cl","x":33.6,"y":7.0},{"s":"Cl","x":34.9,"y":7.5},{"s":"Cl","x":36.2,"y":4.2},{"s":"Cl","x":37.5,"y":3.6},{"s":"Cl","x":38.8,"y":4.0},{"s":"Cl","x":40.1,"y":3.0},{"s":"Cl","x":41.4,"y":4.0},{"s":"Cl","x":42.7,"y":4.1},{"s":"Cl","x":44.0,"y":2.8},{"s":"Cl","x":45.3,"y":3.3},{"s":"Cl","x":46.6,"y":3.8},{"s":"Cl","x":47.9,"y":4.2},{"s":"Cl","x":49.2,"y":2.7},{"s":"Cl","x":50.5,"y":2.0},{"s":"Cl","x":51.8,"y":2.2},{"s":"Cl","x":53.1,"y":2.1},{"s":"Cl","x":54.4,"y":2.5},{"s":"Cl","x":55.7,"y":2.6},{"s":"Cl","x":57.0,"y":2.7},{"s":"Cl","x":58.3,"y":2.9},{"s":"Cl","x":59.6,"y":2.8},{"s":"Cl","x":60.9,"y":2.6},{"s":"Cl","x":62.2,"y":2.1},{"s":"Cl","x":63.5,"y":2.6},{"s":"Cl","x":64.8,"y":3.0},{"s":"Cl","x":66.1,"y":2.7},{"s":"Cl","x":67.4,"y":2.1},{"s":"Cl","x":68.7,"y":1.3},{"s":"Cl","x":70.0,"y":1.9},{"s":"Cl","x":71.3,"y":1.9},{"s":"Cl","x":72.6,"y":1.7},{"s":"Cl","x":73.9,"y":1.6},{"s":"Cl","x":75.2,"y":1.6},{"s":"Cl","x":76.5,"y":1.6},{"s":"Cl","x":77.8,"y":2.9},{"s":"Cl","x":79.1,"y":1.6},{"s":"Cl","x":80.4,"y":2.9},{"s":"Cl","x":81.7,"y":1.7},{"s":"Cl","x":83.0,"y":2.9},{"s":"Cl","x":84.3,"y":1.4},{"s":"Cl","x":85.6,"y":1.3},{"s":"Cl","x":86.9,"y":2.9},{"s":"Cl","x":88.2,"y":2.7},{"s":"Cl","x":89.5,"y":2.4},{"s":"Cl","x":90.8,"y":2.2},{"s":"Cl","x":92.1,"y":1.9},{"s":"Cl","x":93.4,"y":1.6},{"s":"Cl","x":94.7,"y":1.8},{"s":"Cl","x":96.0,"y":1.5},{"s":"Cl","x":97.3,"y":1.8},{"s":"Cl","x":98.6,"y":1.5},{"s":"Cl","x":99.9,"y":1.7},
{"s":"Zr","x":0.85,"y":11.5},{"s":"Zr","x":2.2,"y":5.0},{"s":"Zr","x":3.4,"y":4.0},{"s":"Zr","x":4.6,"y":2.3},{"s":"Zr","x":5.6,"y":1.5},{"s":"Zr","x":6.6,"y":1.0},{"s":"Zr","x":7.9,"y":1.7},{"s":"Zr","x":9.0,"y":1.35},{"s":"Zr","x":10.0,"y":1.38},{"s":"Zr","x":11.3,"y":1.35},{"s":"Zr","x":12.6,"y":1.2},{"s":"Zr","x":13.9,"y":1.1},{"s":"Zr","x":15.8,"y":1.5},{"s":"Zr","x":16.8,"y":1.2},{"s":"Zr","x":19.2,"y":1.1},{"s":"Zr","x":20.3,"y":0.001},{"s":"Zr","x":22.0,"y":null},{"s":"Zr","x":26.0,"y":1.0},{"s":"Zr","x":28.0,"y":null},{"s":"Zr","x":31.5,"y":1.0},{"s":"Zr","x":34.0,"y":1.2},{"s":"Zr","x":34.5,"y":0.001},{"s":"Zr","x":40.0,"y":null},{"s":"Zr","x":53.4,"y":1.2},{"s":"Zr","x":53.6,"y":0.001},{"s":"Zr","x":60.0,"y":null},{"s":"Zr","x":66.0,"y":1.0},{"s":"Zr","x":70.0,"y":null},{"s":"Zr","x":74.8,"y":1.1},{"s":"Zr","x":75.0,"y":0.001},{"s":"Zr","x":78.0,"y":null},{"s":"Zr","x":82.0,"y":1.0},{"s":"Zr","x":84.0,"y":null},{"s":"Zr","x":86.5,"y":1.0}
],
"aa": [
{"t":"Li","bx1":36.0,"bx2":41.4,"by1":27500,"by2":75900,"tx":38.7,"ty":45700,"ax1":41.4,"ay1":44600,"ax2":50.3,"ay2":17500},
{"t":"Co","bx1":90.4,"bx2":98.5,"by1":5370,"by2":15140,"tx":94.45,"ty":9000,"ax1":90.4,"ay1":11500,"ax2":81.6,"ay2":6350},
{"t":"O","bx1":68.9,"bx2":73.5,"by1":174,"by2":468,"tx":71.2,"ty":285,"ax1":68.9,"ay1":297,"ax2":62.9,"ay2":840}
],
"ab": [
{"t":"Co","bx1":35.2,"bx2":42.8,"by1":25100,"by2":77600,"tx":39.0,"ty":44000,"ax1":35.2,"ay1":31600,"ax2":30.8,"ay2":5750},
{"t":"Li","bx1":53.2,"bx2":58.7,"by1":17400,"by2":47900,"tx":55.95,"ty":28800,"ax1":53.2,"ay1":22000,"ax2":46.6,"ay2":2750},
{"t":"O","bx1":60.6,"bx2":65.1,"by1":132,"by2":363,"tx":62.85,"ty":219,"ax1":60.6,"ay1":303,"ax2":54.9,"ay2":1200},
{"t":"Cl","bx1":36.3,"bx2":41.9,"by1":63,"by2":162,"tx":39.1,"ty":100,"ax1":36.3,"ay1":117,"ax2":24.3,"ay2":22}
],
"ac": [
{"t":"Li","bx1":90.3,"bx2":95.7,"by1":25100,"by2":69200,"tx":93.0,"ty":41700,"ax1":90.3,"ay1":25100,"ax2":84.2,"ay2":12000},
{"t":"Co","bx1":88.6,"bx2":95.8,"by1":3310,"by2":9550,"tx":92.2,"ty":5600,"ax1":88.3,"ay1":2580,"ax2":84.6,"ay2":2000},
{"t":"O","bx1":55.6,"bx2":60.0,"by1":89,"by2":240,"tx":57.8,"ty":146,"ax1":55.6,"ay1":105,"ax2":48.75,"ay2":295},
{"t":"Zr","bx1":7.1,"bx2":13.2,"by1":12.6,"by2":32.4,"tx":10.15,"ty":20.2,"ax1":13.2,"ay1":27,"ax2":15.8,"ay2":49}
],
"ad": [
{"t":"Li","bx1":29.6,"bx2":34.9,"by1":14450,"by2":39800,"tx":32.25,"ty":24000,"ax1":29.6,"ay1":14500,"ax2":26.2,"ay2":7600},
{"t":"Co","bx1":48.0,"bx2":55.1,"by1":15100,"by2":42700,"tx":51.55,"ty":25300,"ax1":48.5,"ay1":15100,"ax2":41.1,"ay2":1510},
{"t":"O","bx1":51.9,"bx2":56.6,"by1":63,"by2":174,"tx":54.25,"ty":105,"ax1":51.9,"ay1":98,"ax2":46.6,"ay2":200},
{"t":"Cl","bx1":40.8,"bx2":46.3,"by1":13.5,"by2":35.5,"tx":43.55,"ty":21.9,"ax1":40.8,"ay1":13.5,"ax2":36.4,"ay2":7.6},
{"t":"Zr","bx1":8.1,"bx2":14.3,"by1":7.2,"by2":19.5,"tx":11.2,"ty":11.9,"ax1":11.3,"ay1":7.2,"ax2":7.1,"ay2":2.04}
]
},
"spacing": 43,
"vconcat": [
{"bounds": "flush", "spacing": 151, "resolve": {"scale": {"color": "independent", "shape": "independent", "size": "independent"}}, "hconcat": [
 {"width": 461, "height": 322, "title": {"text": "(a)"}, "resolve": {"scale": {"shape": "independent"}}, "layer": [
  {"data": {"name": "a"}, "mark": {"type": "line", "strokeWidth": 1, "clip": true},
   "encoding": {
    "x": {"field": "x", "type": "quantitative", "title": "Sputter depth (nm)", "scale": {"domain": [0, 100], "nice": false}, "axis": {"values": [0,10,20,30,40,50,60,70,80,90,100], "labelExpr": "datum.value % 20 == 0 ? datum.label : ''", "tickSize": {"condition": {"test": "datum.value % 20 == 0", "value": 6}, "value": 3}}},
    "y": {"field": "y", "type": "quantitative", "title": "Intensity (counts/sec)", "scale": {"type": "log", "domain": [1, 100000], "nice": false}, "axis": {"values": [1,2,3,4,5,6,7,8,9,10,20,30,40,50,60,70,80,90,100,200,300,400,500,600,700,800,900,1000,2000,3000,4000,5000,6000,7000,8000,9000,10000,20000,30000,40000,50000,60000,70000,80000,90000,100000], "labelExpr": "indexof([1,10,100,1000,10000,100000], datum.value) >= 0 ? '10' + ['⁰','¹','²','³','⁴','⁵'][round(log(datum.value)/LN10)] : ''", "tickSize": {"condition": {"test": "indexof([1,10,100,1000,10000,100000], datum.value) >= 0", "value": 6}, "value": 3}}},
    "color": {"field": "s", "type": "nominal", "scale": {"domain": ["Li","Co","O","Cl","Zr"], "range": ["#ec3a86","#2b2bf5","#9b3c9b","#222222","#ee30ee"]}, "legend": null}
   }},
  {"data": {"name": "a"}, "mark": {"type": "point", "filled": false, "strokeWidth": 1, "opacity": 1, "size": 72, "clip": true},
   "encoding": {
    "x": {"field": "x", "type": "quantitative", "title": "Sputter depth (nm)"},
    "y": {"field": "y", "type": "quantitative", "title": "Intensity (counts/sec)"},
    "color": {"field": "s", "type": "nominal", "scale": {"domain": ["Li","Co","O","Cl","Zr"], "range": ["#ec3a86","#2b2bf5","#9b3c9b","#222222","#ee30ee"]}, "legend": null},
    "shape": {"field": "s", "type": "nominal", "scale": {"domain": ["Li","Co","O","Cl","Zr"], "range": ["square","triangle-up","M-1,0L1,0M0,-1L0,1","M0,-1L0.235,-0.324L0.951,-0.309L0.38,0.124L0.588,0.809L0,0.4L-0.588,0.809L-0.38,0.124L-0.951,-0.309L-0.235,-0.324Z","triangle-down"]}, "legend": null}
   }},
  {"data": {"name": "aa"}, "mark": {"type": "rule", "color": "#222222", "strokeWidth": 1},
   "encoding": {"x": {"field": "ax1", "type": "quantitative", "title": "Sputter depth (nm)"}, "y": {"field": "ay1", "type": "quantitative", "title": "Intensity (counts/sec)"}, "x2": {"field": "ax2"}, "y2": {"field": "ay2"}}},
  {"data": {"name": "aa"}, "mark": {"type": "point", "filled": true, "opacity": 1, "size": 49, "color": "#222222"},
   "encoding": {"x": {"field": "ax2", "type": "quantitative", "title": "Sputter depth (nm)"}, "y": {"field": "ay2", "type": "quantitative", "title": "Intensity (counts/sec)"},
    "shape": {"field": "t", "type": "nominal", "scale": {"domain": ["Li","Co","O"], "range": ["M0,0L-2.01,-0.568L-1.366,-1.58Z","M0,0L1.623,-1.311L2.077,-0.201Z","M0,0L1.814,1.032L0.946,1.86Z"]}, "legend": null}}},
  {"data": {"name": "aa"}, "mark": {"type": "rect", "fill": "white", "stroke": "#333333", "strokeWidth": 1},
   "encoding": {"x": {"field": "bx1", "type": "quantitative", "title": "Sputter depth (nm)"}, "y": {"field": "by1", "type": "quantitative", "title": "Intensity (counts/sec)"}, "x2": {"field": "bx2"}, "y2": {"field": "by2"}}},
  {"data": {"name": "aa"}, "mark": {"type": "text", "font": "Liberation Sans", "fontSize": 22, "color": "black", "baseline": "middle", "align": "center"},
   "encoding": {"x": {"field": "tx", "type": "quantitative", "title": "Sputter depth (nm)"}, "y": {"field": "ty", "type": "quantitative", "title": "Intensity (counts/sec)"}, "text": {"field": "t"}}}
 ]},
 {"width": 461, "height": 322, "title": {"text": "(b)"}, "resolve": {"scale": {"shape": "independent"}}, "layer": [
  {"data": {"name": "b"}, "mark": {"type": "line", "strokeWidth": 1, "clip": true},
   "encoding": {
    "x": {"field": "x", "type": "quantitative", "title": "Sputter depth (nm)", "scale": {"domain": [0, 100], "nice": false}, "axis": {"values": [0,10,20,30,40,50,60,70,80,90,100], "labelExpr": "datum.value % 20 == 0 ? datum.label : ''", "tickSize": {"condition": {"test": "datum.value % 20 == 0", "value": 6}, "value": 3}}},
    "y": {"field": "y", "type": "quantitative", "title": "Intensity (counts/sec)", "scale": {"type": "log", "domain": [1, 100000], "nice": false}, "axis": {"values": [1,2,3,4,5,6,7,8,9,10,20,30,40,50,60,70,80,90,100,200,300,400,500,600,700,800,900,1000,2000,3000,4000,5000,6000,7000,8000,9000,10000,20000,30000,40000,50000,60000,70000,80000,90000,100000], "labelExpr": "indexof([1,10,100,1000,10000,100000], datum.value) >= 0 ? '10' + ['⁰','¹','²','³','⁴','⁵'][round(log(datum.value)/LN10)] : ''", "tickSize": {"condition": {"test": "indexof([1,10,100,1000,10000,100000], datum.value) >= 0", "value": 6}, "value": 3}}},
    "color": {"field": "s", "type": "nominal", "scale": {"domain": ["Li","Co","O","Cl","Zr"], "range": ["#ec3a86","#2b2bf5","#9a3030","#222222","#ee30ee"]}, "legend": null}
   }},
  {"data": {"name": "b"}, "mark": {"type": "point", "filled": false, "strokeWidth": 1, "opacity": 1, "clip": true},
   "encoding": {
    "x": {"field": "x", "type": "quantitative", "title": "Sputter depth (nm)"},
    "y": {"field": "y", "type": "quantitative", "title": "Intensity (counts/sec)"},
    "color": {"field": "s", "type": "nominal", "scale": {"domain": ["Li","Co","O","Cl","Zr"], "range": ["#ec3a86","#2b2bf5","#9a3030","#222222","#ee30ee"]}, "legend": null},
    "size": {"field": "s", "type": "ordinal", "scale": {"domain": ["Li","Co","O","Cl","Zr"], "range": [64,70,64,95,80]}, "legend": null},
    "shape": {"field": "s", "type": "nominal", "scale": {"domain": ["Li","Co","O","Cl","Zr"], "range": ["square","triangle-up","M-1,0L1,0M0,-1L0,1","M0,-1L0.235,-0.324L0.951,-0.309L0.38,0.124L0.588,0.809L0,0.4L-0.588,0.809L-0.38,0.124L-0.951,-0.309L-0.235,-0.324Z","triangle-down"]}, "legend": null}
   }},
  {"data": {"name": "ab"}, "mark": {"type": "rule", "color": "#222222", "strokeWidth": 1},
   "encoding": {"x": {"field": "ax1", "type": "quantitative", "title": "Sputter depth (nm)"}, "y": {"field": "ay1", "type": "quantitative", "title": "Intensity (counts/sec)"}, "x2": {"field": "ax2"}, "y2": {"field": "ay2"}}},
  {"data": {"name": "ab"}, "mark": {"type": "point", "filled": true, "opacity": 1, "size": 49, "color": "#222222"},
   "encoding": {"x": {"field": "ax2", "type": "quantitative", "title": "Sputter depth (nm)"}, "y": {"field": "ay2", "type": "quantitative", "title": "Intensity (counts/sec)"},
    "shape": {"field": "t", "type": "nominal", "scale": {"domain": ["Co","Li","O","Cl"], "range": ["M0,0L0.233,-2.073L1.335,-1.603Z","M0,0L0.394,-2.05L1.458,-1.494Z","M0,0L1.624,1.314L0.632,1.99Z","M0,0L1.14,-1.75L1.916,-0.834Z"]}, "legend": null}}},
  {"data": {"name": "ab"}, "mark": {"type": "rect", "fill": "white", "stroke": "#333333", "strokeWidth": 1},
   "encoding": {"x": {"field": "bx1", "type": "quantitative", "title": "Sputter depth (nm)"}, "y": {"field": "by1", "type": "quantitative", "title": "Intensity (counts/sec)"}, "x2": {"field": "bx2"}, "y2": {"field": "by2"}}},
  {"data": {"name": "ab"}, "mark": {"type": "text", "font": "Liberation Sans", "fontSize": 22, "color": "black", "baseline": "middle", "align": "center"},
   "encoding": {"x": {"field": "tx", "type": "quantitative", "title": "Sputter depth (nm)"}, "y": {"field": "ty", "type": "quantitative", "title": "Intensity (counts/sec)"}, "text": {"field": "t"}}}
 ]}
]},
{"bounds": "flush", "spacing": 154, "resolve": {"scale": {"color": "independent", "shape": "independent", "size": "independent"}}, "hconcat": [
 {"width": 461, "height": 322, "title": {"text": "(c)"}, "resolve": {"scale": {"shape": "independent"}}, "layer": [
  {"data": {"name": "c"}, "mark": {"type": "line", "strokeWidth": 1, "clip": true},
   "encoding": {
    "x": {"field": "x", "type": "quantitative", "title": "Sputter depth (nm)", "scale": {"domain": [0, 100], "nice": false}, "axis": {"values": [0,10,20,30,40,50,60,70,80,90,100], "labelExpr": "datum.value % 20 == 0 ? datum.label : ''", "tickSize": {"condition": {"test": "datum.value % 20 == 0", "value": 6}, "value": 3}}},
    "y": {"field": "y", "type": "quantitative", "title": "Intensity (counts/sec)", "scale": {"type": "log", "domain": [1, 100000], "nice": false}, "axis": {"values": [1,2,3,4,5,6,7,8,9,10,20,30,40,50,60,70,80,90,100,200,300,400,500,600,700,800,900,1000,2000,3000,4000,5000,6000,7000,8000,9000,10000,20000,30000,40000,50000,60000,70000,80000,90000,100000], "labelExpr": "indexof([1,10,100,1000,10000,100000], datum.value) >= 0 ? '10' + ['⁰','¹','²','³','⁴','⁵'][round(log(datum.value)/LN10)] : ''", "tickSize": {"condition": {"test": "indexof([1,10,100,1000,10000,100000], datum.value) >= 0", "value": 6}, "value": 3}}},
    "color": {"field": "s", "type": "nominal", "scale": {"domain": ["Li","Co","O","Cl","Zr"], "range": ["#ec3a86","#2b2bf5","#9a3030","#222222","#ee30ee"]}, "legend": null}
   }},
  {"data": {"name": "c"}, "mark": {"type": "point", "filled": false, "strokeWidth": 1, "opacity": 1, "clip": true},
   "encoding": {
    "x": {"field": "x", "type": "quantitative", "title": "Sputter depth (nm)"},
    "y": {"field": "y", "type": "quantitative", "title": "Intensity (counts/sec)"},
    "color": {"field": "s", "type": "nominal", "scale": {"domain": ["Li","Co","O","Cl","Zr"], "range": ["#ec3a86","#2b2bf5","#9a3030","#222222","#ee30ee"]}, "legend": null},
    "size": {"field": "s", "type": "ordinal", "scale": {"domain": ["Li","Co","O","Cl","Zr"], "range": [55,50,55,90,95]}, "legend": null},
    "shape": {"field": "s", "type": "nominal", "scale": {"domain": ["Li","Co","O","Cl","Zr"], "range": ["square","triangle-up","M-1,0L1,0M0,-1L0,1","M0,-1L0.235,-0.324L0.951,-0.309L0.38,0.124L0.588,0.809L0,0.4L-0.588,0.809L-0.38,0.124L-0.951,-0.309L-0.235,-0.324Z","triangle-down"]}, "legend": null}
   }},
  {"data": {"name": "ac"}, "mark": {"type": "rule", "color": "#222222", "strokeWidth": 1},
   "encoding": {"x": {"field": "ax1", "type": "quantitative", "title": "Sputter depth (nm)"}, "y": {"field": "ay1", "type": "quantitative", "title": "Intensity (counts/sec)"}, "x2": {"field": "ax2"}, "y2": {"field": "ay2"}}},
  {"data": {"name": "ac"}, "mark": {"type": "point", "filled": true, "opacity": 1, "size": 49, "color": "#222222"},
   "encoding": {"x": {"field": "ax2", "type": "quantitative", "title": "Sputter depth (nm)"}, "y": {"field": "ay2", "type": "quantitative", "title": "Intensity (counts/sec)"},
    "shape": {"field": "t", "type": "nominal", "scale": {"domain": ["Li","Co","O","Zr"], "range": ["M0,0L1.254,-1.669L1.966,-0.703Z","M0,0L1.618,-1.322L2.078,-0.214Z","M0,0L1.881,0.907L1.071,1.793Z","M0,0L-0.679,1.972L-1.653,1.272Z"]}, "legend": null}}},
  {"data": {"name": "ac"}, "mark": {"type": "rect", "fill": "white", "stroke": "#333333", "strokeWidth": 1},
   "encoding": {"x": {"field": "bx1", "type": "quantitative", "title": "Sputter depth (nm)"}, "y": {"field": "by1", "type": "quantitative", "title": "Intensity (counts/sec)"}, "x2": {"field": "bx2"}, "y2": {"field": "by2"}}},
  {"data": {"name": "ac"}, "mark": {"type": "text", "font": "Liberation Sans", "fontSize": 22, "color": "black", "baseline": "middle", "align": "center"},
   "encoding": {"x": {"field": "tx", "type": "quantitative", "title": "Sputter depth (nm)"}, "y": {"field": "ty", "type": "quantitative", "title": "Intensity (counts/sec)"}, "text": {"field": "t"}}}
 ]},
 {"width": 461, "height": 322, "title": {"text": "(d)"}, "resolve": {"scale": {"shape": "independent"}}, "layer": [
  {"data": {"name": "d"}, "mark": {"type": "line", "strokeWidth": 1, "clip": true},
   "encoding": {
    "x": {"field": "x", "type": "quantitative", "title": "Sputter depth (nm)", "scale": {"domain": [0, 100], "nice": false}, "axis": {"values": [0,10,20,30,40,50,60,70,80,90,100], "labelExpr": "datum.value % 20 == 0 ? datum.label : ''", "tickSize": {"condition": {"test": "datum.value % 20 == 0", "value": 6}, "value": 3}}},
    "y": {"field": "y", "type": "quantitative", "title": "Intensity (counts/sec)", "scale": {"type": "log", "domain": [1, 100000], "nice": false}, "axis": {"values": [1,2,3,4,5,6,7,8,9,10,20,30,40,50,60,70,80,90,100,200,300,400,500,600,700,800,900,1000,2000,3000,4000,5000,6000,7000,8000,9000,10000,20000,30000,40000,50000,60000,70000,80000,90000,100000], "labelExpr": "indexof([1,10,100,1000,10000,100000], datum.value) >= 0 ? '10' + ['⁰','¹','²','³','⁴','⁵'][round(log(datum.value)/LN10)] : ''", "tickSize": {"condition": {"test": "indexof([1,10,100,1000,10000,100000], datum.value) >= 0", "value": 6}, "value": 3}}},
    "color": {"field": "s", "type": "nominal", "scale": {"domain": ["Li","Co","O","Cl","Zr"], "range": ["#ec3a86","#2b2bf5","#9a3030","#222222","#ee30ee"]}, "legend": null}
   }},
  {"data": {"name": "d"}, "mark": {"type": "point", "filled": false, "strokeWidth": 1, "opacity": 1, "clip": true},
   "encoding": {
    "x": {"field": "x", "type": "quantitative", "title": "Sputter depth (nm)"},
    "y": {"field": "y", "type": "quantitative", "title": "Intensity (counts/sec)"},
    "color": {"field": "s", "type": "nominal", "scale": {"domain": ["Li","Co","O","Cl","Zr"], "range": ["#ec3a86","#2b2bf5","#9a3030","#222222","#ee30ee"]}, "legend": null},
    "size": {"field": "s", "type": "ordinal", "scale": {"domain": ["Li","Co","O","Cl","Zr"], "range": [60,60,60,95,85]}, "legend": null},
    "shape": {"field": "s", "type": "nominal", "scale": {"domain": ["Li","Co","O","Cl","Zr"], "range": ["square","triangle-up","M-1,0L1,0M0,-1L0,1","M0,-1L0.235,-0.324L0.951,-0.309L0.38,0.124L0.588,0.809L0,0.4L-0.588,0.809L-0.38,0.124L-0.951,-0.309L-0.235,-0.324Z","triangle-down"]}, "legend": null}
   }},
  {"data": {"name": "ad"}, "mark": {"type": "rule", "color": "#222222", "strokeWidth": 1},
   "encoding": {"x": {"field": "ax1", "type": "quantitative", "title": "Sputter depth (nm)"}, "y": {"field": "ay1", "type": "quantitative", "title": "Intensity (counts/sec)"}, "x2": {"field": "ax2"}, "y2": {"field": "ay2"}}},
  {"data": {"name": "ad"}, "mark": {"type": "point", "filled": true, "opacity": 1, "size": 49, "color": "#222222"},
   "encoding": {"x": {"field": "ax2", "type": "quantitative", "title": "Sputter depth (nm)"}, "y": {"field": "ay2", "type": "quantitative", "title": "Intensity (counts/sec)"},
    "shape": {"field": "t", "type": "nominal", "scale": {"domain": ["Li","Co","O","Cl","Zr"], "range": ["M0,0L0.862,-1.9L1.766,-1.112Z","M0,0L0.406,-2.047L1.466,-1.485Z","M0,0L1.931,0.805L1.169,1.735Z","M0,0L1.202,-1.712L1.946,-0.768Z","M0,0L0.44,-2.042L1.492,-1.462Z"]}, "legend": null}}},
  {"data": {"name": "ad"}, "mark": {"type": "rect", "fill": "white", "stroke": "#333333", "strokeWidth": 1},
   "encoding": {"x": {"field": "bx1", "type": "quantitative", "title": "Sputter depth (nm)"}, "y": {"field": "by1", "type": "quantitative", "title": "Intensity (counts/sec)"}, "x2": {"field": "bx2"}, "y2": {"field": "by2"}}},
  {"data": {"name": "ad"}, "mark": {"type": "text", "font": "Liberation Sans", "fontSize": 22, "color": "black", "baseline": "middle", "align": "center"},
   "encoding": {"x": {"field": "tx", "type": "quantitative", "title": "Sputter depth (nm)"}, "y": {"field": "ty", "type": "quantitative", "title": "Intensity (counts/sec)"}, "text": {"field": "t"}}}
 ]}
]}
]
}
